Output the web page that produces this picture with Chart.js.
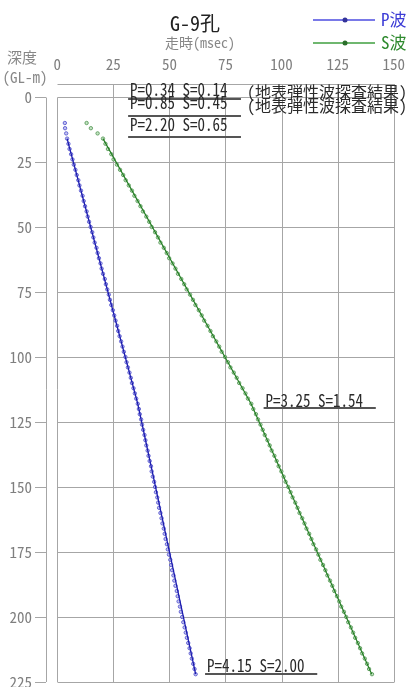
<!DOCTYPE html>
<html lang="ja">
<head>
  <meta charset="UTF-8" />
  <title>G-9孔 走時曲線</title>
  <script src="https://cdn.jsdelivr.net/npm/chart.js@4.4.0/dist/chart.umd.min.js"></script>
  <style>
    html, body { margin: 0; padding: 0; background: #fff; }
    #wrap { width: 416px; height: 687px; }
  </style>
</head>
<body>
  <div id="wrap"><canvas id="chart" width="416" height="687"></canvas></div>

  <script>
    // depth of each measurement (GL-m)
    const depths = [
      10, 12, 14, 16, 18, 20, 22, 24, 26, 28,
      30, 32, 34, 36, 38, 40, 42, 44, 46, 48,
      50, 52, 54, 56, 58, 60, 62, 64, 66, 68,
      70, 72, 74, 76, 78, 80, 82, 84, 86, 88,
      90, 92, 94, 96, 98, 100, 102, 104, 106, 108,
      110, 112, 114, 116, 118, 120, 122, 124, 126, 128,
      130, 132, 134, 136, 138, 140, 142, 144, 146, 148,
      150, 152, 154, 156, 158, 160, 162, 164, 166, 168,
      170, 172, 174, 176, 178, 180, 182, 184, 186, 188,
      190, 192, 194, 196, 198, 200, 202, 204, 206, 208,
      210, 212, 214, 216, 218, 220, 222
    ];
    // travel times (msec)
    const pTimes = [
      3.4, 3.5, 4.0, 4.4, 5.0, 5.5, 6.2, 6.8, 7.4, 8.1,
      8.7, 9.4, 9.9, 10.6, 11.3, 11.8, 12.4, 13.1, 13.6, 14.2,
      14.9, 15.6, 16.1, 16.7, 17.5, 18.0, 18.6, 19.3, 19.8, 20.4,
      21.2, 21.7, 22.3, 23.0, 23.5, 24.1, 24.8, 25.4, 26.0, 26.7,
      27.2, 27.8, 28.5, 29.1, 29.7, 30.4, 30.9, 31.5, 32.2, 32.8,
      33.3, 34.0, 34.6, 35.2, 35.9, 36.4, 36.8, 37.4, 37.8, 38.3,
      38.9, 39.3, 39.7, 40.3, 40.7, 41.2, 41.8, 42.1, 42.6, 43.2,
      43.6, 44.0, 44.6, 45.0, 45.4, 46.0, 46.5, 46.9, 47.5, 47.9,
      48.3, 48.9, 49.3, 49.8, 50.4, 50.8, 51.2, 51.8, 52.2, 52.7,
      53.3, 53.7, 54.1, 54.7, 55.1, 55.7, 56.2, 56.8, 57.3, 57.8,
      58.4, 59.0, 59.5, 60.0, 60.6, 61.2, 61.7
    ];
    const sTimes = [
      13.1, 15.0, 18.0, 20.4, 21.5, 22.6, 24.1, 25.1, 26.6, 28.0,
      29.4, 30.5, 31.9, 33.3, 34.4, 35.8, 37.1, 38.2, 39.7, 41.0,
      42.1, 43.6, 44.9, 46.0, 47.5, 48.8, 49.9, 51.4, 52.7, 53.8,
      55.3, 56.6, 57.7, 59.2, 60.5, 61.6, 63.1, 64.4, 65.5, 67.0,
      68.3, 69.4, 70.9, 72.2, 73.3, 74.8, 76.1, 77.2, 78.7, 80.0,
      81.1, 82.6, 83.9, 85.0, 86.5, 87.4, 88.6, 89.5, 90.6, 91.6,
      92.5, 93.7, 94.7, 95.6, 96.8, 97.8, 98.7, 99.9, 100.9, 101.8,
      103.0, 104.0, 104.9, 106.1, 107.1, 108.0, 109.2, 110.2, 111.1, 112.3,
      113.3, 114.2, 115.4, 116.4, 117.3, 118.5, 119.5, 120.4, 121.6, 122.6,
      123.5, 124.7, 125.7, 126.6, 127.8, 128.8, 129.7, 130.9, 131.9, 132.8,
      134.0, 135.0, 135.9, 137.1, 138.1, 139.0, 140.3
    ];
    // fitted velocity-layer lines
    const fitDepths = [16, 118, 222];
    const pFitTimes = [4.4, 35.9, 61.7];
    const sFitTimes = [20.4, 86.4, 140.2];

    const xTicks = [0, 25, 50, 75, 100, 125, 150];
    const yTicks = [0, 25, 50, 75, 100, 125, 150, 175, 200, 225];

    const layerLabels = ['P=0.34 S=0.14', 'P=0.85 S=0.45', 'P=2.20 S=0.65', 'P=3.25 S=1.54', 'P=4.15 S=2.00'];
    const layerNotes = ['(地表弾性波探査結果)', '(地表弾性波探査結果)', '', '', ''];

    const MONO = "'Noto Sans Mono CJK JP', 'Noto Sans CJK JP', 'DejaVu Sans Mono', monospace";
    const GRID = '#a6a6a6';

    const toXY = (times) => times.map((t, i) => ({ x: t, y: depths[i] }));
    const fitXY = (times) => times.map((t, i) => ({ x: t, y: fitDepths[i] }));

    // grid like the Excel sheet: plot box starts at 0/0, axes sit a bit outside
    const excelGrid = {
      id: 'excelGrid',
      beforeDatasetsDraw(chart) {
        const ctx = chart.ctx, area = chart.chartArea;
        const xs = chart.scales.x, ys = chart.scales.y;
        const x0 = Math.round(xs.getPixelForValue(0)) + 0.5;
        const y0 = Math.round(ys.getPixelForValue(0)) + 0.5;
        const xEnd = Math.round(xs.getPixelForValue(150)) + 0.5;
        ctx.save();
        ctx.strokeStyle = GRID;
        ctx.lineWidth = 1;
        ctx.beginPath();
        xTicks.forEach(v => {
          const px = Math.round(xs.getPixelForValue(v)) + 0.5;
          ctx.moveTo(px, v === 0 ? y0 : area.top);
          ctx.lineTo(px, area.bottom);
        });
        yTicks.forEach(v => {
          const py = Math.round(ys.getPixelForValue(v)) + 0.5;
          ctx.moveTo(x0, py);
          ctx.lineTo(xEnd, py);
        });
        // top axis line and left axis line
        ctx.moveTo(x0, Math.round(area.top) + 0.5);
        ctx.lineTo(xEnd, Math.round(area.top) + 0.5);
        ctx.moveTo(Math.round(area.left) + 0.5, y0);
        ctx.lineTo(Math.round(area.left) + 0.5, area.bottom);
        ctx.stroke();
        ctx.restore();
      }
    };

    // tall narrow text, close to the sheet's gothic font
    function tallText(ctx, text, x, y, k) {
      ctx.save();
      ctx.translate(x, y);
      ctx.scale(1, k);
      ctx.fillText(text, 0, 0);
      ctx.restore();
    }

    // texts, legend and layer notes
    const overlay = {
      id: 'overlay',
      afterDraw(chart) {
        const ctx = chart.ctx;
        const xs = chart.scales.x, ys = chart.scales.y;
        ctx.save();
        ctx.textAlign = 'center';
        ctx.textBaseline = 'middle';
        ctx.fillStyle = '#222';
        ctx.font = '20px ' + MONO;
        ctx.fillText('G-9孔', 195, 23);
        ctx.fillStyle = '#878787';
        ctx.font = '14px ' + MONO;
        ctx.fillText('走時(msec)', 200, 43);
        ctx.font = '15px ' + MONO;
        ctx.fillText('深度', 22, 57);
        ctx.fillText('(GL-m)', 25, 77);

        // legend
        const leg = [
          { text: 'P波', y: 20, line: '#4d4de0', dot: '#33339a', txt: '#3b3bd6' },
          { text: 'S波', y: 43, line: '#3f9f3f', dot: '#2a6e2a', txt: '#2e8a2e' }
        ];
        ctx.textAlign = 'left';
        ctx.font = '17px ' + MONO;
        leg.forEach(l => {
          ctx.strokeStyle = l.line;
          ctx.lineWidth = 1.5;
          ctx.beginPath(); ctx.moveTo(313, l.y); ctx.lineTo(375, l.y); ctx.stroke();
          ctx.fillStyle = l.dot;
          ctx.beginPath(); ctx.arc(345, l.y, 2.5, 0, Math.PI * 2); ctx.fill();
          ctx.fillStyle = l.txt;
          ctx.fillText(l.text, 381, l.y);
        });

        // layer velocity labels with underline
        const place = [
          { x0: 31.6, x1: 81.9, ty: -0.5, ly: 0.8, ny: 0.3 },
          { x0: 31.6, x1: 81.9, ty: 4.4, ly: 7.2, ny: 5.7 },
          { x0: 31.6, x1: 81.9, ty: 12.7, ly: 15.5 },
          { x0: 92.0, x1: 142.0, ty: 119.0, ly: 119.6 },
          { x0: 65.9, x1: 115.9, ty: 221.0, ly: 222.0 }
        ];
        ctx.textBaseline = 'alphabetic';
        layerLabels.forEach((lab, i) => {
          const p = place[i];
          const a = xs.getPixelForValue(p.x0), b = xs.getPixelForValue(p.x1);
          ctx.fillStyle = '#2a2a2a';
          ctx.font = '15px ' + MONO;
          tallText(ctx, lab, a + 2, ys.getPixelForValue(p.ty) + 0.5, 1.15);
          ctx.strokeStyle = '#555';
          ctx.lineWidth = 2;
          const ly = Math.round(ys.getPixelForValue(p.ly));
          ctx.beginPath(); ctx.moveTo(a, ly); ctx.lineTo(b, ly); ctx.stroke();
          if (layerNotes[i]) {
            ctx.font = '16px ' + MONO;
            ctx.fillText(layerNotes[i], 247, ys.getPixelForValue(p.ny));
          }
        });
        ctx.restore();
      }
    };

    new Chart(document.getElementById('chart'), {
      type: 'scatter',
      data: {
        datasets: [
          { label: 'P波 fit', data: fitXY(pFitTimes), showLine: true, borderColor: '#1c1cae', borderWidth: 1.3, pointRadius: 0 },
          { label: 'S波 fit', data: fitXY(sFitTimes), showLine: true, borderColor: '#267f26', borderWidth: 1.2, pointRadius: 0 },
          { label: 'P波', data: toXY(pTimes), showLine: false, pointRadius: 1.7, pointBorderWidth: 0.9,
            pointBackgroundColor: 'rgba(170,170,235,0.7)', pointBorderColor: '#5a5ad0' },
          { label: 'S波', data: toXY(sTimes), showLine: false, pointRadius: 1.7, pointBorderWidth: 0.9,
            pointBackgroundColor: 'rgba(170,215,170,0.7)', pointBorderColor: '#5c9c5c' }
        ]
      },
      options: {
        responsive: false,
        animation: false,
        devicePixelRatio: 1,
        layout: { padding: { left: 0, right: 20, top: 0, bottom: 5 } },
        plugins: { legend: { display: false }, title: { display: false }, tooltip: { enabled: false } },
        scales: {
          x: {
            type: 'linear', position: 'top', min: -5, max: 150,
            afterBuildTicks: s => { s.ticks = xTicks.map(v => ({ value: v })); },
            afterFit: s => { s.height = 84; },
            grid: { color: GRID, drawTicks: false, drawOnChartArea: false },
            border: { display: false },
            ticks: { padding: 11, color: '#7f7f7f', font: { family: MONO, size: 15 }, maxRotation: 0, autoSkip: false }
          },
          y: {
            type: 'linear', reverse: true, min: -5, max: 225,
            afterBuildTicks: s => { s.ticks = yTicks.map(v => ({ value: v })); },
            afterFit: s => { s.width = 46; s.paddingTop = 0; s.paddingBottom = 0; },
            grid: { color: GRID, tickLength: 11, drawOnChartArea: false },
            border: { display: false },
            ticks: { padding: 3, color: '#7f7f7f', font: { family: MONO, size: 15 }, autoSkip: false }
          }
        }
      },
      plugins: [excelGrid, overlay]
    });
  </script>
</body>
</html>
